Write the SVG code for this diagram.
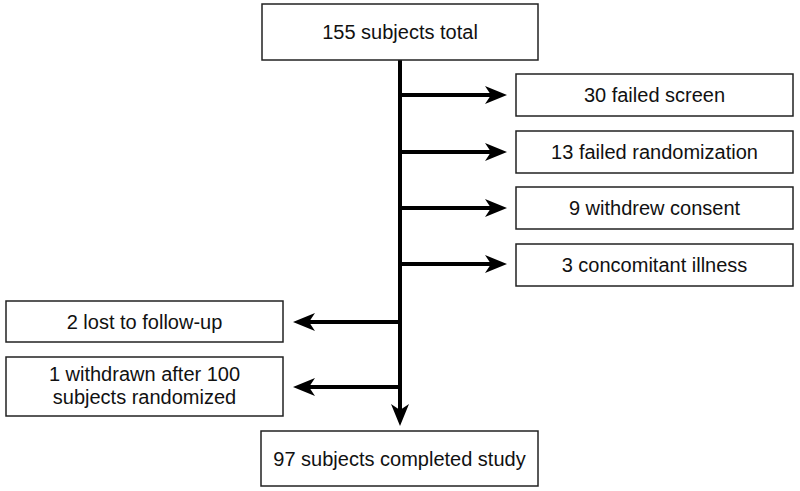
<svg xmlns="http://www.w3.org/2000/svg" width="800" height="491" viewBox="0 0 800 491">
<style>
.box{fill:#fff;stroke:#222;stroke-width:1.5}
.t{font-family:"Liberation Sans",Arial,sans-serif;font-size:20px;fill:#111;text-anchor:middle}
.c{stroke:#000;stroke-width:4;fill:none}
</style>
<defs>
<marker id="ah" markerUnits="userSpaceOnUse" markerWidth="24" markerHeight="20" refX="10" refY="9" orient="auto" overflow="visible">
<path d="M0,0 L22,9 L0,18 L6,9 Z" fill="#000"/>
</marker>
</defs>
<rect width="800" height="491" fill="#fff"/>
<g id="connectors">
<line class="c" x1="400" y1="60" x2="400" y2="414" marker-end="url(#ah)"/>
<line class="c" x1="400" y1="95" x2="495" y2="95" marker-end="url(#ah)"/>
<line class="c" x1="400" y1="152" x2="495" y2="152" marker-end="url(#ah)"/>
<line class="c" x1="400" y1="208" x2="495" y2="208" marker-end="url(#ah)"/>
<line class="c" x1="400" y1="264" x2="495" y2="264" marker-end="url(#ah)"/>
<line class="c" x1="400" y1="322" x2="305" y2="322" marker-end="url(#ah)"/>
<line class="c" x1="400" y1="387" x2="305" y2="387" marker-end="url(#ah)"/>
</g>
<g id="n-total"><rect class="box" x="262" y="4" width="276" height="56"/><text class="t" x="400" y="39">155 subjects total</text></g>
<g id="n-screen"><rect class="box" x="516" y="74" width="277" height="42"/><text class="t" x="654.5" y="102">30 failed screen</text></g>
<g id="n-rand"><rect class="box" x="516" y="131" width="277" height="42"/><text class="t" x="654.5" y="159">13 failed randomization</text></g>
<g id="n-consent"><rect class="box" x="516" y="187" width="277" height="42"/><text class="t" x="654.5" y="215">9 withdrew consent</text></g>
<g id="n-illness"><rect class="box" x="516" y="244" width="277" height="42"/><text class="t" x="654.5" y="272">3 concomitant illness</text></g>
<g id="n-lost"><rect class="box" x="6" y="301" width="277" height="41"/><text class="t" x="144.5" y="329">2 lost to follow-up</text></g>
<g id="n-withdrawn"><rect class="box" x="6" y="357" width="277" height="59"/><text class="t" x="144.5" y="381">1 withdrawn after 100</text><text class="t" x="144.5" y="404">subjects randomized</text></g>
<g id="n-completed"><rect class="box" x="261" y="431" width="277" height="55"/><text class="t" x="399.5" y="466">97 subjects completed study</text></g>
</svg>
